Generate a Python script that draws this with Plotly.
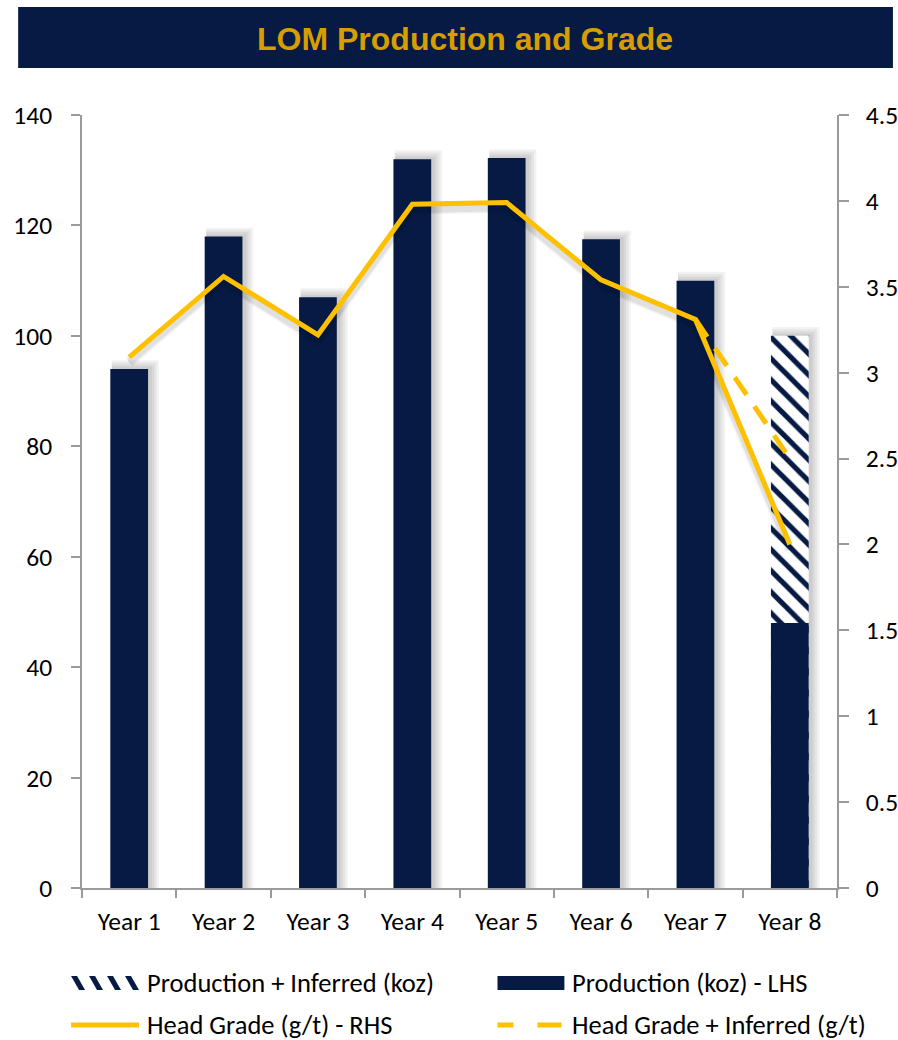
import plotly.graph_objects as go

years = ["Year 1", "Year 2", "Year 3", "Year 4", "Year 5", "Year 6", "Year 7", "Year 8"]
production = [94, 118, 107, 132, 132.2, 117.5, 110, 48]
production_inferred = [None, None, None, None, None, None, None, 100]
head_grade = [3.09, 3.56, 3.22, 3.98, 3.99, 3.54, 3.31, 2.0]
head_grade_inferred = [None, None, None, None, None, None, 3.31, 2.5]

NAVY = "#061A44"
GOLD = "#FFC000"
TITLE_GOLD = "#D69E00"
AXIS = "#9A9A9A"
FONT = "Carlito, Lato, sans-serif"
FS = 25.5
LFS = 26.5

# the photographed page comes out slightly narrower horizontally; compensate
SX = 1 / 0.987
W, H = round(898 * SX), 1040
L = round(81 * SX)
R = W - round(837 * SX)
T, B = 115, 152
PW, PH = W - L - R, H - T - B
BW = 0.4

def px(x):
    return (x * SX - L) / PW

def py(y):
    return (H - B - y) / PH

fig = go.Figure()

# soft shadows behind the bars
tallest = [max(a, b or 0) for a, b in zip(production, production_inferred)]
for k in range(1, 5):
    fig.add_trace(go.Bar(
        x=years, y=[v + 0.4 * k for v in tallest],
        marker=dict(color="rgba(0,0,0,0.05)", line=dict(width=0)),
        width=BW + 0.025 * k, offset=-BW / 2 + 0.015, hoverinfo="skip", showlegend=False,
    ))

fig.add_trace(go.Bar(
    x=years, y=production_inferred, name="Production + Inferred (koz)",
    marker=dict(color="white", line=dict(width=0),
                pattern=dict(shape="\\", fgcolor=NAVY, bgcolor="white", fgopacity=1,
                             size=15, solidity=0.35)),
    width=BW, showlegend=False,
))
fig.add_trace(go.Bar(
    x=years, y=production, name="Production (koz) - LHS",
    marker=dict(color=NAVY, line=dict(width=0)),
    width=BW, showlegend=False,
))

# faint shadow under the grade lines
for w, a in [(10, 0.05), (7, 0.07)]:
    fig.add_trace(go.Scatter(
        x=years, y=[v - 0.03 for v in head_grade], yaxis="y2", mode="lines",
        line=dict(color=f"rgba(0,0,0,{a})", width=w), hoverinfo="skip", showlegend=False,
    ))

fig.add_trace(go.Scatter(
    x=years, y=head_grade_inferred, name="Head Grade + Inferred (g/t)", yaxis="y2",
    mode="lines", line=dict(color=GOLD, width=5, dash="21px,14px"), connectgaps=False,
    showlegend=False,
))
fig.add_trace(go.Scatter(
    x=years, y=head_grade, name="Head Grade (g/t) - RHS", yaxis="y2",
    mode="lines", line=dict(color=GOLD, width=5), showlegend=False,
))

shapes = []
annotations = []

# title bar
shapes.append(dict(type="rect", xref="paper", yref="paper",
                   x0=px(17), x1=px(893), y0=py(68), y1=py(7),
                   fillcolor=NAVY, line=dict(width=0), layer="above"))
annotations.append(dict(text="<b>LOM Production and Grade</b>", xref="paper", yref="paper",
                        x=px(464), y=py(39), showarrow=False, xanchor="center", yanchor="middle",
                        font=dict(family="Liberation Sans, Arial", size=32, color=TITLE_GOLD)))

# legend
r1 = 983
r2 = 1025
for i in range(4):
    x0 = 70 + i * 18
    shapes.append(dict(type="path", xref="paper", yref="paper",
                       path=f"M {px(x0)},{py(r1-7)} L {px(x0+6)},{py(r1-7)} L {px(x0+14)},{py(r1+7)} L {px(x0+8)},{py(r1+7)} Z",
                       fillcolor=NAVY, line=dict(width=0)))
annotations.append(dict(text="Production + Inferred (koz)", xref="paper", yref="paper",
                        x=px(144), y=py(r1), showarrow=False, xanchor="left", yanchor="middle",
                        font=dict(family=FONT, size=LFS, color="black")))
shapes.append(dict(type="rect", xref="paper", yref="paper",
                   x0=px(497), x1=px(564), y0=py(r1+7), y1=py(r1-7),
                   fillcolor=NAVY, line=dict(width=0)))
annotations.append(dict(text="Production (koz) - LHS", xref="paper", yref="paper",
                        x=px(570), y=py(r1), showarrow=False, xanchor="left", yanchor="middle",
                        font=dict(family=FONT, size=LFS, color="black")))
shapes.append(dict(type="line", xref="paper", yref="paper",
                   x0=px(70), x1=px(138), y0=py(r2), y1=py(r2),
                   line=dict(color=GOLD, width=5)))
annotations.append(dict(text="Head Grade (g/t) - RHS", xref="paper", yref="paper",
                        x=px(144), y=py(r2), showarrow=False, xanchor="left", yanchor="middle",
                        font=dict(family=FONT, size=LFS, color="black")))
for a, b in [(497, 513), (537, 561)]:
    shapes.append(dict(type="line", xref="paper", yref="paper",
                       x0=px(a), x1=px(b), y0=py(r2), y1=py(r2),
                       line=dict(color=GOLD, width=5)))
annotations.append(dict(text="Head Grade + Inferred (g/t)", xref="paper", yref="paper",
                        x=px(570), y=py(r2), showarrow=False, xanchor="left", yanchor="middle",
                        font=dict(family=FONT, size=LFS, color="black")))

axis_common = dict(showline=True, linecolor=AXIS, linewidth=1.5, ticks="outside",
                   tickcolor=AXIS, tickwidth=1.5, showgrid=False, zeroline=False,
                   tickfont=dict(size=FS))

fig.update_layout(
    width=W, height=H, autosize=False,
    margin=dict(l=L, r=R, t=T, b=B, pad=0),
    paper_bgcolor="white", plot_bgcolor="white",
    barmode="overlay",
    font=dict(family=FONT, size=FS, color="black"),
    xaxis=dict(type="category", tickson="boundaries", ticklen=8, ticklabelstandoff=10,
               **axis_common),
    yaxis=dict(range=[0, 140], dtick=20, ticklen=9, ticklabelstandoff=14, **axis_common),
    yaxis2=dict(range=[0, 4.5], dtick=0.5, overlaying="y", side="right",
                ticklen=10, ticklabelstandoff=12, **axis_common),
    shapes=shapes,
    annotations=annotations,
)

fig.write_html(
    "out.html",
    config={"responsive": False, "displayModeBar": False},
    post_script=(
        "document.documentElement.style.overflow='hidden';"
        "document.documentElement.style.margin='0';"
        "document.body.style.margin='0';"
        "document.body.style.overflow='hidden';"
    ),
)
